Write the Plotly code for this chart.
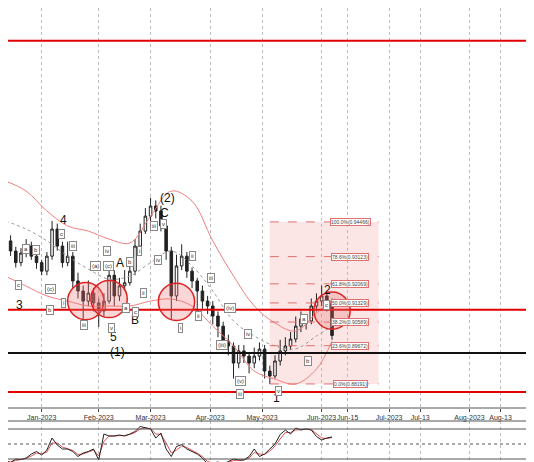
import pandas as pd
import plotly.graph_objects as go

# bar dates, every second business day
dates = pd.bdate_range('2022-12-13', '2023-06-09')[::2][:64]

opens = [.9350, .9373, .9334, .9289, .9326, .9353, .9314, .9289, .9256, .9314, .9419, .9353, .9289, .9314, .9218, .9179,
         .9140, .9171, .9133, .9102, .9140, .9240, .9160, .9199, .9211, .9256, .9353, .9411, .9469, .9508, .9489, .9431,
         .9334, .9160, .9276, .9314, .9256, .9218, .9179, .9140, .9121, .9082, .9043, .8985, .8966, .8900, .8947, .8927,
         .8900, .8927, .8954, .8869, .8850, .8908, .8947, .8966, .8993, .9043, .9071, .9063, .9121, .9140, .9160, .9140]
closes = [.9373, .9334, .9289, .9326, .9353, .9314, .9289, .9256, .9314, .9419, .9353, .9289, .9314, .9218, .9179, .9140,
          .9171, .9133, .9102, .9140, .9240, .9160, .9199, .9211, .9256, .9353, .9411, .9469, .9508, .9489, .9431, .9334,
          .9160, .9276, .9314, .9256, .9218, .9179, .9140, .9121, .9082, .9043, .8985, .8966, .8900, .8947, .8927, .8900,
          .8927, .8954, .8869, .8850, .8908, .8947, .8966, .8993, .9043, .9071, .9063, .9121, .9140, .9160, .9140, .9007]
highs = [.9400, .9395, .9350, .9345, .9380, .9370, .9330, .9300, .9330, .9450, .9440, .9370, .9370, .9330, .9250, .9200,
         .9220, .9190, .9150, .9170, .9290, .9260, .9230, .9260, .9290, .9380, .9440, .9500, .9540, .9530, .9510, .9450,
         .9350, .9320, .9360, .9330, .9270, .9230, .9200, .9160, .9140, .9100, .9060, .9010, .8980, .8970, .8970, .8940,
         .8960, .8980, .8970, .8890, .8930, .8990, .9000, .9020, .9080, .9100, .9090, .9150, .9170, .9200, .9180, .9150]
lows = [.9335, .9315, .9270, .9275, .9310, .9300, .9265, .9240, .9240, .9300, .9335, .9270, .9275, .9190, .9150, .9060,
        .9120, .9100, .9040, .9080, .9130, .9120, .9140, .9180, .9200, .9240, .9340, .9400, .9450, .9460, .9410, .9300,
        .9070, .9140, .9260, .9230, .9190, .9080, .9110, .9090, .9050, .9000, .8950, .8930, .8840, .8880, .8900, .8860,
        .8880, .8910, .8840, .8819, .8840, .8890, .8930, .8950, .8980, .9020, .9030, .9050, .9100, .9120, .9100, .8990]

# envelope, every fourth bar
env_idx = [0, 4, 8, 12, 16, 20, 24, 28, 32, 36, 40, 44, 48, 52, 56, 60, 63]
env_upper = [.9605, .9566, .9489, .9431, .9411, .9380, .9365, .9469, .9566, .9527, .9373, .9237, .9121, .9055, .9024, .9094, .9140]
env_mid = [.9450, .9419, .9373, .9314, .9264, .9225, .9237, .9289, .9334, .9276, .9179, .9063, .9005, .8966, .8955, .9005, .9043]
env_lower = [.9237, .9198, .9160, .9140, .9121, .9121, .9121, .9140, .9148, .9121, .9043, .8966, .8869, .8838, .8819, .8877, .8985]

osc_main = [15, 13, 20, 19, 22, 30, 35, 28, 38, 62, 48, 40, 40, 35, 25, 32, 35, 40, 18, 70, 66, 66, 68, 66, 70, 75, 85, 82,
            80, 62, 72, 40, 25, 45, 49, 40, 35, 30, 22, 10, 12, 14, 10, 15, 20, 18, 18, 25, 40, 25, 30, 40, 50, 69, 78, 70,
            82, 78, 80, 78, 65, 58, 62, 64]
osc_signal = [16, 14, 17, 19, 21, 26, 32, 30, 34, 52, 52, 44, 41, 37, 29, 30, 34, 38, 26, 55, 66, 66, 67, 67, 69, 73, 80, 82,
              81, 70, 69, 52, 32, 38, 46, 43, 37, 32, 25, 15, 12, 13, 11, 13, 17, 18, 18, 22, 33, 30, 29, 36, 46, 60, 73, 73,
              78, 79, 80, 79, 70, 62, 61, 63]
osc_levels = [80, 50, 20]

red_levels = [1.0148, 0.9106, 0.8788]
black_level = 0.8939

fib_pct = ['0.0%', '23.6%', '38.2%', '50.0%', '61.8%', '78.6%', '100.0%']
fib_vals = [0.88191, 0.89672, 0.90589, 0.91329, 0.92069, 0.93123, 0.94466]

tick_dates = ['2023-01-02', '2023-02-01', '2023-03-01', '2023-04-03', '2023-05-01', '2023-06-01',
              '2023-06-15', '2023-07-01', '2023-07-13', '2023-08-01', '2023-08-13']
tick_text = ['Jan-2023', 'Feb-2023', 'Mar-2023', 'Apr-2023', 'May-2023', 'Jun-2023',
             'Jun-15', 'Jul-2023', 'Jul-13', 'Aug-2023', 'Aug-13']

# wave labels, positioned in pixel terms on the page
big_labels = [('3', 6, 297), ('4', 50, 212), ('5', 100, 338), ('(1)', 100, 353), ('A', 106, 255), ('B', 121, 321),
              ('C', 150, 205), ('(2)', 150, 190), ('2', 319, 282), ('1', 268, 399)]
small_labels = [('c', 7, 277), ('a', 14, 241), ('b', 24, 242), ('b', 38, 302), ('(c)', 37, 281), ('c', 50, 226),
                ('iii', 61, 238), ('i', 53, 295), ('iii', 72, 322), ('(a)', 82, 258), ('(c)', 95, 258), ('iv', 95, 243),
                ('v', 100, 325), ('a', 114, 300), ('c', 124, 309), ('b', 118, 254), ('ii', 132, 285), ('i', 129, 243),
                ('iii', 142, 218), ('v', 152, 216), ('iv', 146, 252), ('ii', 184, 248), ('i', 170, 325),
                ('iii', 203, 270), ('ii', 190, 313), ('(iv)', 222, 300), ('(iii)', 214, 342), ('iv', 240, 331),
                ('(v)', 232, 378), ('iii', 232, 391), ('a', 296, 316), ('b', 300, 358), ('c', 318, 297), ('v', 270, 388)]

circles = [('2023-01-24', 0.9140), ('2023-02-06', 0.9148), ('2023-03-14', 0.9137), ('2023-06-06', 0.9103)]

fig = go.Figure()

env_dates = [dates[i] for i in env_idx]
fig.add_trace(go.Scatter(x=env_dates, y=env_upper, mode='lines', line=dict(color='#f08080', width=1, shape='spline'), hoverinfo='skip'))
fig.add_trace(go.Scatter(x=env_dates, y=env_lower, mode='lines', line=dict(color='#f08080', width=1, shape='spline'), hoverinfo='skip'))
fig.add_trace(go.Scatter(x=env_dates, y=env_mid, mode='lines', line=dict(color='#999', width=1, dash='dot', shape='spline'), hoverinfo='skip'))

fig.add_trace(go.Candlestick(
    x=dates, open=opens, high=highs, low=lows, close=closes,
    increasing=dict(line=dict(color='#222', width=1), fillcolor='white'),
    decreasing=dict(line=dict(color='#222', width=1), fillcolor='#222'),
    whiskerwidth=0, hoverinfo='skip'))

fig.add_trace(go.Scatter(x=dates, y=osc_signal, mode='lines', line=dict(color='#e05050', width=1), xaxis='x2', yaxis='y2'))
fig.add_trace(go.Scatter(x=dates, y=osc_main, mode='lines', line=dict(color='#222', width=1), xaxis='x2', yaxis='y2'))

shapes = []
# fibonacci zone
shapes.append(dict(type='rect', xref='x', yref='y', x0='2023-05-04', x1='2023-06-27', y0=fib_vals[0], y1=fib_vals[-1],
                   fillcolor='rgba(240,150,150,0.25)', line=dict(width=0), layer='below'))
for v in fib_vals:
    shapes.append(dict(type='line', xref='x', yref='y', x0='2023-05-04', x1='2023-06-27', y0=v, y1=v,
                       line=dict(color='#e07070', width=1, dash='dash')))
for v in red_levels:
    shapes.append(dict(type='line', xref='paper', yref='y', x0=0, x1=1, y0=v, y1=v, line=dict(color='#e00000', width=2)))
shapes.append(dict(type='line', xref='paper', yref='y', x0=0, x1=1, y0=black_level, y1=black_level, line=dict(color='#111', width=2)))
for cx, cy in circles:
    c = pd.Timestamp(cx)
    shapes.append(dict(type='circle', xref='x', yref='y', x0=c - pd.Timedelta(days=10), x1=c + pd.Timedelta(days=10),
                       y0=cy - 0.0072, y1=cy + 0.0072, line=dict(color='#e02020', width=1.5),
                       fillcolor='rgba(240,120,120,0.3)'))
for v in osc_levels:
    shapes.append(dict(type='line', xref='x2 domain', yref='y2', x0=0, x1=1, y0=v, y1=v,
                       line=dict(color='#555', width=1, dash='dot' if v == 50 else 'solid')))
# frame lines between panels
for yp in [400, 413, 460]:
    shapes.append(dict(type='line', xref='paper', yref='paper', x0=0, x1=1, y0=1 - yp / 462, y1=1 - yp / 462,
                       line=dict(color='#555', width=1)))

annotations = []
for p, v in zip(fib_pct, fib_vals):
    annotations.append(dict(x='2023-06-16', y=v, xref='x', yref='y', text=f'{p}({v:.5f})', showarrow=False,
                            font=dict(size=5, color='#444'), bgcolor='white', bordercolor='#e07070', borderwidth=1, borderpad=0))
for t, px, py in big_labels:
    annotations.append(dict(x=px / 534, y=1 - py / 462, xref='paper', yref='paper', text=t, showarrow=False,
                            font=dict(size=12, color='#111')))
for t, px, py in small_labels:
    annotations.append(dict(x=px / 534, y=1 - py / 462, xref='paper', yref='paper', text=t, showarrow=False,
                            font=dict(size=6, color='#333'), bgcolor='white', bordercolor='#888', borderwidth=1, borderpad=1))

weekends = [d for d in pd.date_range('2022-12-10', '2023-06-11') if d.weekday() >= 5]

fig.update_layout(
    width=534, height=462, margin=dict(l=0, r=0, t=0, b=0),
    paper_bgcolor='white', plot_bgcolor='white', showlegend=False,
    font=dict(family='Liberation Sans'),
    shapes=shapes, annotations=annotations,
    xaxis=dict(range=['2022-12-14', '2023-08-29'], rangebreaks=[dict(values=weekends)], rangeslider=dict(visible=False),
               tickvals=tick_dates, ticktext=tick_text, tickfont=dict(size=7, color='#333'), tickangle=0,
               ticks='outside', ticklen=3, showgrid=True, gridcolor='#bbb', griddash='dot', anchor='y', zeroline=False),
    yaxis=dict(domain=[1 - 400 / 462, 1], range=[0.8726, 1.0275], showticklabels=False, showgrid=False, zeroline=False),
    xaxis2=dict(matches='x', anchor='y2', showticklabels=False, showgrid=True, gridcolor='#bbb', griddash='dot',
                rangebreaks=[dict(values=weekends)], tickvals=tick_dates),
    yaxis2=dict(domain=[2 / 462, 49 / 462], range=[2, 96], showticklabels=False, showgrid=False, zeroline=False),
)

fig.write_html('out.html')
